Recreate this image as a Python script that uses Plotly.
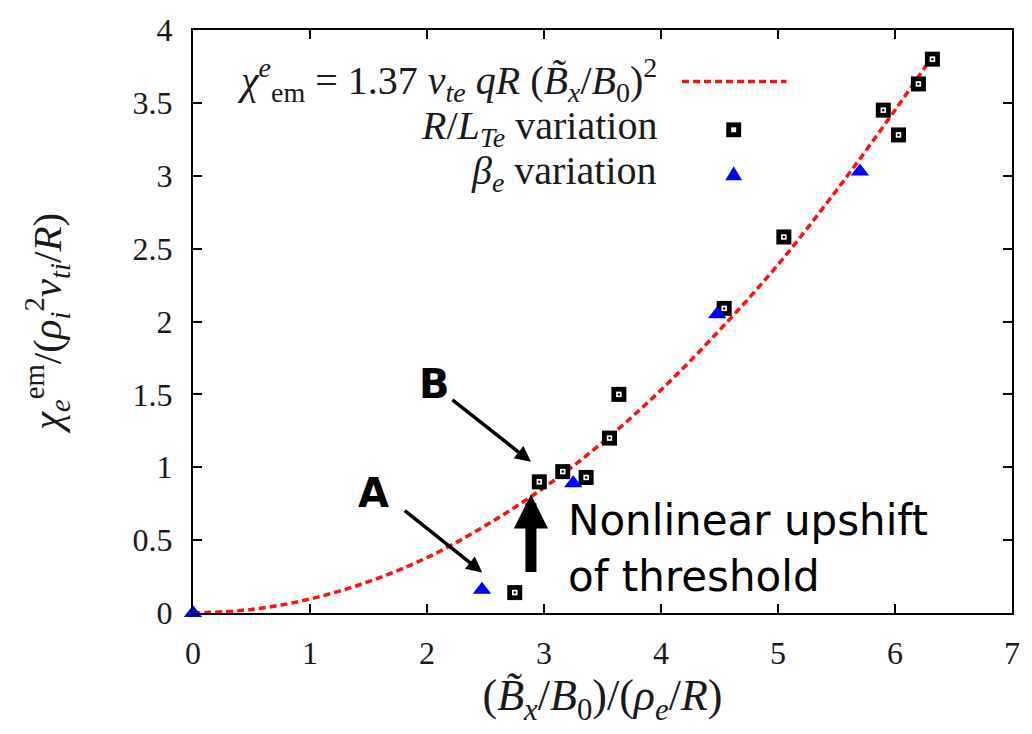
import plotly.graph_objects as go

# ---------------- data ----------------
rlte_x = [2.75, 2.96, 3.16, 3.36, 3.56, 3.64, 4.54, 5.05, 5.90, 6.03, 6.20, 6.32]
rlte_y = [0.14, 0.90, 0.97, 0.93, 1.20, 1.50, 2.09, 2.58, 3.45, 3.28, 3.63, 3.80]

beta_x = [0.0, 2.47, 3.25, 4.48, 5.70]
beta_y = [0.0, 0.16, 0.89, 2.05, 3.03]

# dashed fit curve chi = 1.37 v_te qR (Bx/B0)^2
fit_x = [0.0, 0.5, 1.0, 1.5, 2.0, 2.5, 3.0, 3.5, 4.0, 4.5, 5.0, 5.5, 6.0, 6.33]
fit_y = [0.0, 0.024, 0.096, 0.215, 0.38, 0.60, 0.86, 1.17, 1.53, 1.94, 2.39, 2.90, 3.45, 3.83]

x_ticks = [0, 1, 2, 3, 4, 5, 6, 7]
y_ticks = [0, 0.5, 1, 1.5, 2, 2.5, 3, 3.5, 4]

# ---------------- layout geometry ----------------
W, H = 1032, 734
ML, MR, MT, MB = 193, 15, 23, 121
PW, PH = W - ML - MR, H - MT - MB


def px(x):
    return (x - ML) / PW


def py(y):
    return (H - MB - y) / PH


SERIF = "Liberation Serif"
SANS = "DejaVu Sans"
TXT = "#1a1a1a"

fig = go.Figure()

fig.add_trace(go.Scatter(
    x=fit_x, y=fit_y, mode="lines", line_shape="spline",
    line=dict(color="#ff1010", width=3.5, dash="7px,4px"),
    showlegend=False, hoverinfo="skip"))

# R/L_Te squares: black square, white inner square, black dot
fig.add_trace(go.Scatter(
    x=rlte_x, y=rlte_y, mode="markers",
    marker=dict(symbol="square", size=15, color="black", line=dict(width=0)),
    showlegend=False, cliponaxis=False))
fig.add_trace(go.Scatter(
    x=rlte_x, y=rlte_y, mode="markers",
    marker=dict(symbol="square", size=5.5, color="white", line=dict(width=0)),
    showlegend=False, cliponaxis=False, hoverinfo="skip"))
fig.add_trace(go.Scatter(
    x=rlte_x, y=rlte_y, mode="markers",
    marker=dict(symbol="circle", size=2.5, color="black", line=dict(width=0)),
    showlegend=False, cliponaxis=False, hoverinfo="skip"))

fig.add_trace(go.Scatter(
    x=beta_x, y=beta_y, mode="markers",
    marker=dict(symbol="triangle-up", size=16, color="#0000ff", line=dict(width=0)),
    showlegend=False, cliponaxis=False))

axis_common = dict(
    showline=True, linecolor="black", linewidth=2, mirror="ticks",
    ticks="inside", ticklen=9, tickwidth=1.5, tickcolor="black",
    showgrid=False, zeroline=False,
    tickfont=dict(family=SERIF, size=32, color=TXT),
)

fig.update_layout(
    width=W, height=H,
    margin=dict(l=ML, r=MR, t=MT, b=MB),
    paper_bgcolor="white", plot_bgcolor="white",
    showlegend=False,
    xaxis=dict(range=[0, 7], tickvals=x_ticks, ticktext=[str(v) for v in x_ticks],
               ticklabelstandoff=11,
               title=dict(text="(<i>B̃<sub>x</sub></i>/<i>B</i><sub>0</sub>)/(<i>ρ<sub>e</sub></i>/<i>R</i>)",
                          font=dict(family=SERIF, size=44, color=TXT), standoff=2),
               **axis_common),
    yaxis=dict(range=[0, 4], tickvals=y_ticks, ticktext=[f"{v:g}" for v in y_ticks],
               ticklabelstandoff=12,
               title=dict(text="<i>χ<sub>e</sub></i><sup>em</sup>/(<i>ρ<sub>i</sub></i><sup>2</sup><i>v<sub>ti</sub></i>/<i>R</i>)",
                          font=dict(family=SERIF, size=41, color=TXT), standoff=58),
               **axis_common),
)

ann = []
LEGF = dict(family=SERIF, size=40, color=TXT)
# legend texts (right-aligned, symbol on the right)
leg_right = px(662)
ann.append(dict(xref="paper", yref="paper", x=leg_right, y=py(74), xanchor="right", yanchor="middle",
                text="<i>χ</i><sup><i>e</i></sup><sub>em</sub> = 1.37 <i>v<sub>te</sub></i> <i>qR</i> (<i>B̃<sub>x</sub></i>/<i>B</i><sub>0</sub>)<sup>2</sup>",
                showarrow=False, font=LEGF))
ann.append(dict(xref="paper", yref="paper", x=leg_right, y=py(122), xanchor="right", yanchor="middle",
                text="<i>R</i>/<i>L<sub>Te</sub></i> variation",
                showarrow=False, font=LEGF))
ann.append(dict(xref="paper", yref="paper", x=leg_right, y=py(168), xanchor="right", yanchor="middle",
                text="<i>β<sub>e</sub></i> variation",
                showarrow=False, font=LEGF))

# A / B labels
ann.append(dict(xref="paper", yref="paper", x=px(436), y=py(381), text="<b>B</b>", showarrow=False,
                font=dict(family=SANS, size=40, color="black"), xanchor="center", yanchor="middle"))
ann.append(dict(xref="paper", yref="paper", x=px(375), y=py(492), text="<b>A</b>", showarrow=False,
                font=dict(family=SANS, size=40, color="black"), xanchor="center", yanchor="middle"))

# arrows
ann.append(dict(xref="paper", yref="paper", x=px(533), y=py(460), ax=-80, ay=-63, text="",
                showarrow=True, arrowhead=2, arrowsize=0.9, arrowwidth=3.5, arrowcolor="black", standoff=0))
ann.append(dict(xref="paper", yref="paper", x=px(484), y=py(572), ax=-79, ay=-63, text="",
                showarrow=True, arrowhead=2, arrowsize=0.9, arrowwidth=3.5, arrowcolor="black", standoff=0))
ann.append(dict(xref="paper", yref="paper", x=px(533), y=py(493), ax=0, ay=79, text="",
                showarrow=True, arrowhead=2, arrowsize=0.62, arrowwidth=11, arrowcolor="black", standoff=0))

ann.append(dict(xref="paper", yref="paper", x=px(568), y=py(519), xanchor="left", yanchor="middle",
                text="Nonlinear upshift", showarrow=False, font=dict(family=SANS, size=42, color="black")))
ann.append(dict(xref="paper", yref="paper", x=px(568), y=py(576), xanchor="left", yanchor="middle",
                text="of threshold", showarrow=False, font=dict(family=SANS, size=42, color="black")))

fig.update_layout(annotations=ann)

# legend symbols
shapes = [
    dict(type="line", xref="paper", yref="paper", x0=px(685), x1=px(790), y0=py(75), y1=py(75),
         line=dict(color="#ff1010", width=3.5, dash="7px,4px")),
    dict(type="rect", xref="paper", yref="paper", x0=px(729.5), x1=px(744.5), y0=py(131.5), y1=py(116.5),
         fillcolor="black", line=dict(width=0)),
    dict(type="rect", xref="paper", yref="paper", x0=px(734.5), x1=px(739.5), y0=py(126.5), y1=py(121.5),
         fillcolor="white", line=dict(width=0)),
    dict(type="path", xref="paper", yref="paper",
         path=f"M {px(728.5)},{py(175)} L {px(745.5)},{py(175)} L {px(737)},{py(161)} Z",
         fillcolor="#0000ff", line=dict(width=0)),
]
fig.update_layout(shapes=shapes)

fig.write_html("out.html")
